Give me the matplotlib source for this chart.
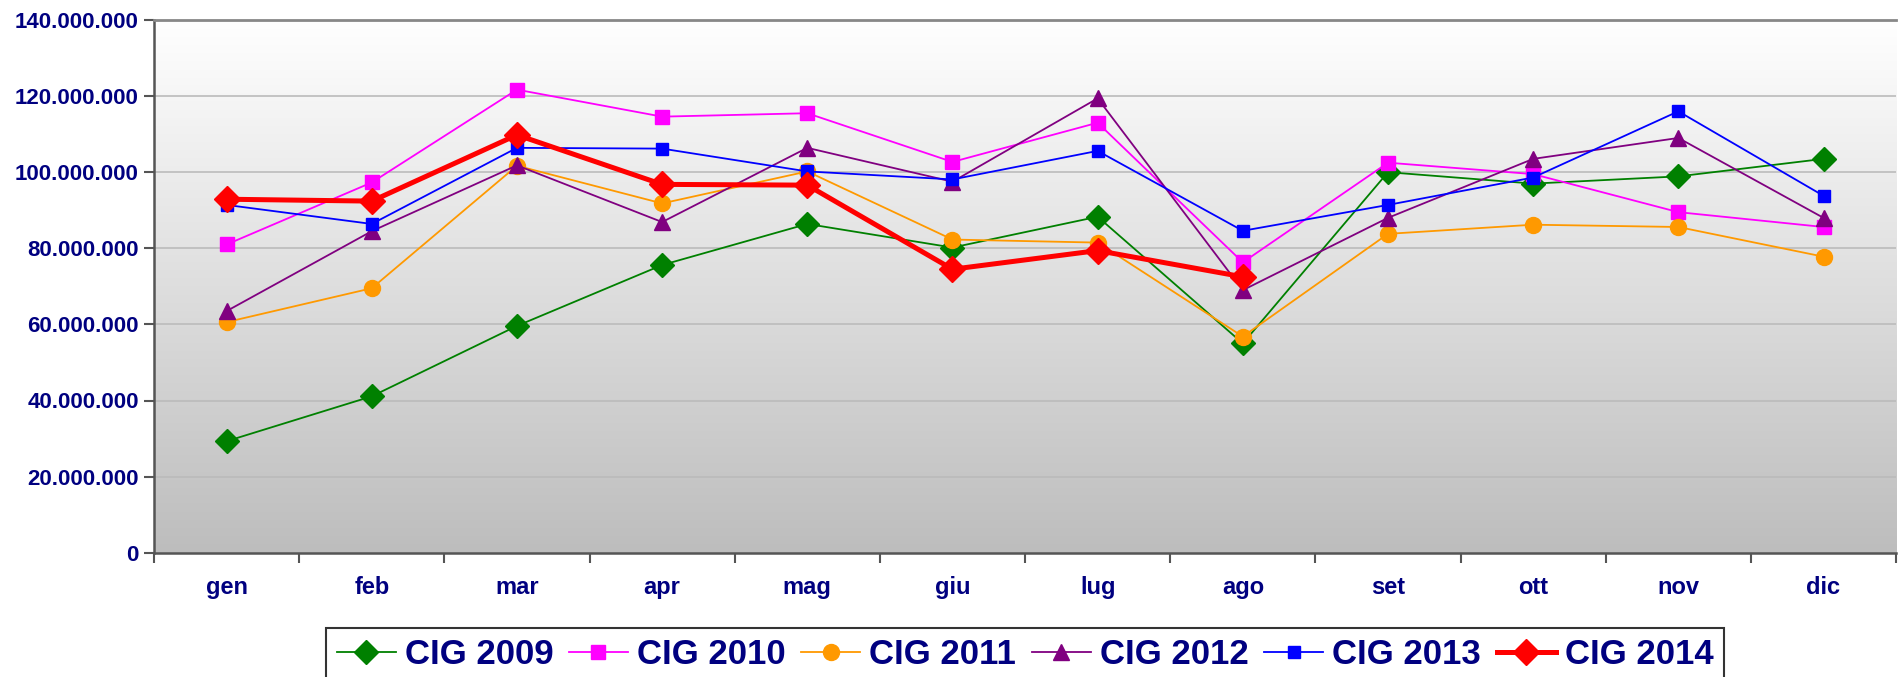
import numpy as np
import matplotlib
matplotlib.use('Agg')
import matplotlib.pyplot as plt
from matplotlib.ticker import FuncFormatter, FixedLocator

months = ['gen', 'feb', 'mar', 'apr', 'mag', 'giu', 'lug', 'ago', 'set', 'ott', 'nov', 'dic']

# values in millions
cig_2009 = [29.3, 41.1, 59.6, 75.6, 86.4, 80.2, 88.3, 55.0, 100.0, 97.0, 98.9, 103.5]
cig_2010 = [81.0, 97.3, 121.7, 114.6, 115.5, 102.7, 113.0, 76.3, 102.5, 99.5, 89.5, 85.6]
cig_2011 = [60.6, 69.5, 101.7, 91.8, 100.2, 82.3, 81.5, 56.8, 83.8, 86.2, 85.6, 77.8]
cig_2012 = [63.5, 84.5, 101.8, 86.9, 106.4, 97.5, 119.4, 69.0, 88.0, 103.5, 109.0, 88.0]
cig_2013 = [91.4, 86.4, 106.4, 106.2, 100.2, 98.1, 105.6, 84.6, 91.4, 98.6, 116.0, 93.8]
cig_2014 = [92.9, 92.4, 109.8, 96.8, 96.6, 74.5, 79.4, 72.5]

series = [
    ('CIG 2009', cig_2009, '#008000', 'D', 12, 1.3),
    ('CIG 2010', cig_2010, '#FF00FF', 's', 10.5, 1.3),
    ('CIG 2011', cig_2011, '#FF9900', 'o', 11.5, 1.3),
    ('CIG 2012', cig_2012, '#800080', '^', 11.5, 1.3),
    ('CIG 2013', cig_2013, '#0000FF', 's', 8, 1.3),
    ('CIG 2014', cig_2014, '#FF0000', 'D', 13, 3.6),
]

navy = '#000080'

fig = plt.figure(figsize=(18.98, 6.77), dpi=100)
ax = fig.add_axes([154 / 1898, 1 - 552.7 / 677, 1 - 154 / 1898 - 0.001, (552.7 - 20) / 677])

# gradient background
grad = np.linspace(0, 1, 256).reshape(-1, 1)
ax.imshow(grad, extent=[0, 1, 0, 1], transform=ax.transAxes, aspect='auto',
          cmap=matplotlib.colors.LinearSegmentedColormap.from_list('g', ['#FFFFFF', '#BDBDBD']),
          zorder=0, origin='upper')

x = np.arange(12)
for name, vals, col, mk, ms, lw in series:
    v = np.array(vals) * 1e6
    ax.plot(x[:len(v)], v, color=col, marker=mk, markersize=ms, linewidth=lw,
            label=name, zorder=3 if name != 'CIG 2014' else 4)

ax.set_xlim(-0.5, 11.5)
ax.set_ylim(0, 140e6)
ax.set_yticks(np.arange(0, 140e6 + 1, 20e6))
ax.yaxis.set_major_formatter(FuncFormatter(lambda v, p: '{:,}'.format(int(v)).replace(',', '.')))
ax.grid(axis='y', color='#BBBBBB', linewidth=1.2, zorder=1)
ax.set_axisbelow(True)

ax.xaxis.set_major_locator(FixedLocator(np.arange(-0.5, 12, 1)))
ax.xaxis.set_major_formatter(plt.NullFormatter())
ax.xaxis.set_minor_locator(FixedLocator(x))
ax.set_xticklabels(months, minor=True)
ax.tick_params(axis='x', which='minor', length=0, pad=17)
ax.tick_params(axis='x', which='major', length=7, width=1.5, color='#555555')
ax.tick_params(axis='y', length=7, width=1.5, color='#555555', pad=4)

for lab in ax.get_yticklabels():
    lab.set_fontfamily('Liberation Sans')
    lab.set_fontweight('bold')
    lab.set_fontsize(16)
    lab.set_color(navy)
for lab in ax.get_xticklabels(minor=True):
    lab.set_fontfamily('Liberation Sans')
    lab.set_fontweight('bold')
    lab.set_fontsize(17)
    lab.set_color(navy)

ax.spines['right'].set_visible(False)
ax.spines['top'].set_color('#888888')
ax.spines['top'].set_linewidth(2)
ax.spines['left'].set_color('#555555')
ax.spines['left'].set_linewidth(1.8)
ax.spines['bottom'].set_color('#555555')
ax.spines['bottom'].set_linewidth(1.8)

leg = fig.legend(loc='upper center', bbox_to_anchor=(1025 / 1898, 1 - 628 / 677), ncol=6,
                 frameon=True, fancybox=False, edgecolor='black', handlelength=1.7,
                 columnspacing=0.45, handletextpad=0.26, borderpad=0.3, borderaxespad=0,
                 prop={'family': 'Liberation Sans', 'weight': 'bold', 'size': 25})
leg.get_frame().set_linewidth(1.5)
for t in leg.get_texts():
    t.set_color(navy)

fig.savefig('out.png', dpi=100)
